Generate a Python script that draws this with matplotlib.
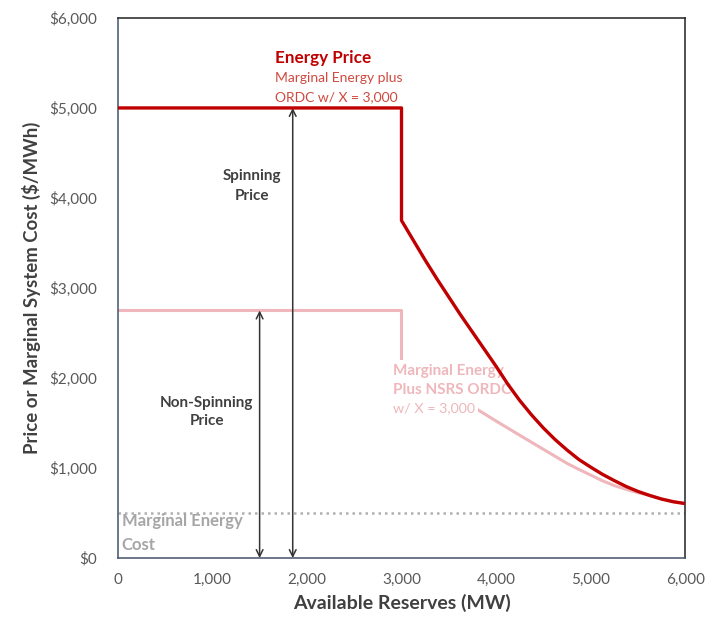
import matplotlib
matplotlib.use("Agg")
import matplotlib.pyplot as plt

plt.rcParams['font.family'] = ['Lato', 'DejaVu Sans']

# Data
energy_x = [0, 3000, 3000, 3125, 3250, 3375, 3500, 3625, 3750, 3875, 4000, 4125, 4250,
            4375, 4500, 4625, 4750, 4875, 5000, 5125, 5250, 5375, 5500, 5625, 5750, 5875, 6000]
energy_y = [5000, 5000, 3750, 3530, 3310, 3100, 2900, 2700, 2510, 2320, 2130, 1930, 1750,
            1590, 1445, 1315, 1200, 1095, 1010, 930, 860, 795, 740, 695, 655, 625, 605]

nsrs_x = [0, 3000, 3000, 3250, 3500, 3750, 3875, 4000, 4125, 4250, 4375, 4500, 4625,
          4750, 4875, 5000, 5125, 5250, 5375, 5500, 5625, 5750, 5875, 6000]
nsrs_y = [2750, 2750, 2180, 2010, 1850, 1685, 1603, 1522, 1443, 1364, 1286, 1208, 1130,
          1052, 985, 922, 858, 805, 763, 726, 695, 657, 628, 605]

marginal_cost = 500
spin_arrow_x, spin_arrow_top = 1850, 5000
nonspin_arrow_x, nonspin_arrow_top = 1500, 2750

xticks = [0, 1000, 2000, 3000, 4000, 5000, 6000]
yticks = [0, 1000, 2000, 3000, 4000, 5000, 6000]

RED = '#c00000'
PINK = '#efb7bb'
GREY = '#a6a6a6'
DARK = '#404040'

fig = plt.figure(figsize=(7.05, 6.18), dpi=100)
ax = fig.add_axes([0.167, 0.097, 0.805, 0.874])

ax.plot(nsrs_x, nsrs_y, color=PINK, lw=2.2, zorder=2, solid_joinstyle='round')
ax.plot(energy_x, energy_y, color=RED, lw=2.4, zorder=5, solid_joinstyle='round')
ax.axhline(marginal_cost, color='#b0b0b0', lw=1.8, ls=(0, (1, 1.6)), zorder=1)

arrow_kw = dict(arrowstyle='<->', color='#333333', lw=1.1, mutation_scale=12, shrinkA=0, shrinkB=0)
ax.annotate('', xy=(spin_arrow_x, spin_arrow_top), xytext=(spin_arrow_x, 0), arrowprops=arrow_kw, zorder=3)
ax.annotate('', xy=(nonspin_arrow_x, nonspin_arrow_top), xytext=(nonspin_arrow_x, 0), arrowprops=arrow_kw, zorder=3)

# Energy price label
ax.text(1665, 5556, 'Energy Price', color=RED, fontsize=12.3, fontweight='bold', va='center', ha='left')
ax.text(1665, 5333, 'Marginal Energy plus', color='#cf4a3f', fontsize=10, va='center', ha='left')
ax.text(1665, 5122, 'ORDC w/ X = 3,000', color='#cf4a3f', fontsize=10, va='center', ha='left')

# Arrow labels
ax.text(1418, 4244, 'Spinning', color=DARK, fontsize=11, fontweight='bold', ha='center', va='center')
ax.text(1418, 4022, 'Price', color=DARK, fontsize=11, fontweight='bold', ha='center', va='center')
ax.text(942, 1722, 'Non-Spinning', color=DARK, fontsize=11, fontweight='bold', ha='center', va='center')
ax.text(942, 1522, 'Price', color=DARK, fontsize=11, fontweight='bold', ha='center', va='center')

# NSRS label (white background hides the curve behind it)
box = dict(facecolor='white', edgecolor='none', pad=2.5)
ax.text(2905, 2078, 'Marginal Energy', color=PINK, fontsize=11, fontweight='bold',
        ha='left', va='center', zorder=4, bbox=box)
ax.text(2905, 1867, 'Plus NSRS ORDC', color=PINK, fontsize=11, fontweight='bold',
        ha='left', va='center', zorder=4, bbox=box)
ax.text(2905, 1667, 'w/ X = 3,000', color=PINK, fontsize=10.3, ha='left', va='center', zorder=4, bbox=box)

# Marginal energy cost label
ax.text(42, 411, 'Marginal Energy', color=GREY, fontsize=12, fontweight='bold', ha='left', va='center')
ax.text(42, 144, 'Cost', color=GREY, fontsize=12, fontweight='bold', ha='left', va='center')

ax.set_xlim(0, 6000)
ax.set_ylim(0, 6000)
ax.set_xticks(xticks)
ax.set_yticks(yticks)
ax.set_xticklabels([f'{v:,}' for v in xticks])
ax.set_yticklabels([f'${v:,}' for v in yticks])
ax.tick_params(length=0, labelsize=11, labelcolor='#595959')
ax.tick_params(axis='y', pad=15)
ax.tick_params(axis='x', pad=11)

ax.set_xlabel('Available Reserves (MW)', fontsize=14, fontweight='bold', color='#404040', labelpad=5)
ax.set_ylabel('Price or Marginal System Cost ($/MWh)', fontsize=13.4, fontweight='bold', color='#404040', labelpad=6)

for s in ['left', 'bottom']:
    ax.spines[s].set_color('#44546a')
for s in ['top', 'right']:
    ax.spines[s].set_color('#222222')
for s in ax.spines.values():
    s.set_linewidth(1.1)

fig.savefig('out.png', dpi=100)
